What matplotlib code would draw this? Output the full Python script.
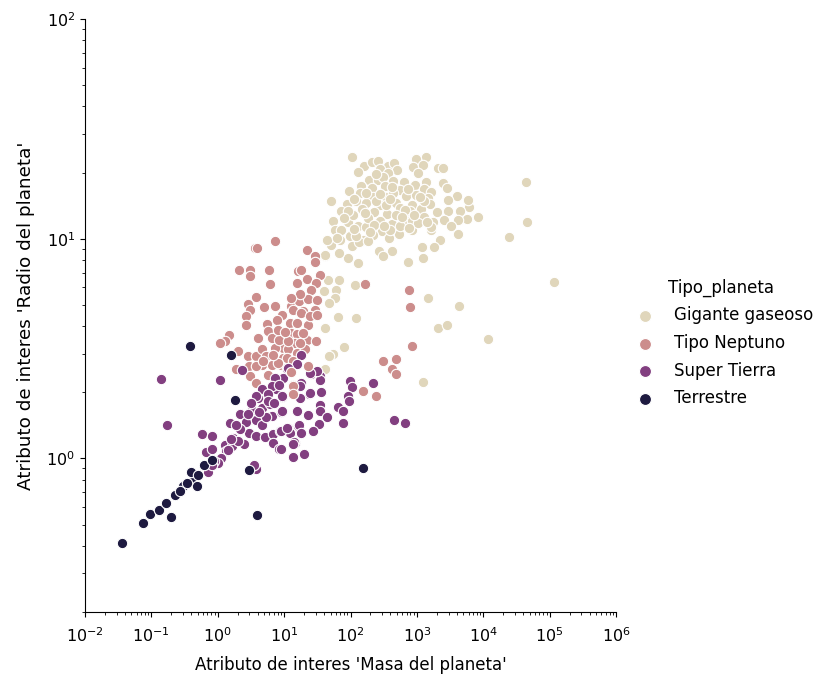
import matplotlib
matplotlib.use("Agg")
import matplotlib.pyplot as plt
import numpy as np

# log10(masa), log10(radio)
gigante = [
    [2.02, 1.373], [1.70, 1.173], [4.64, 1.259], [4.66, 1.077], [4.39, 1.009], [3.92, 1.100], [3.62, 1.023],
    [3.75, 1.091], [3.78, 1.145], [3.77, 1.177], [3.60, 1.195], [3.47, 1.177], [3.39, 1.255], [3.45, 1.232],
    [3.32, 1.323], [3.39, 1.323], [3.14, 1.373], [2.98, 1.364], [2.94, 1.327], [3.09, 1.336], [3.01, 1.300],
    [3.14, 1.259], [3.35, 0.995], [3.26, 0.964], [3.08, 0.964], [3.09, 0.914], [2.86, 0.895], [2.62, 0.945],
    [2.43, 0.945], [2.49, 0.923], [2.11, 0.891], [1.96, 0.914], [1.83, 0.936],
    [2.21, 1.332], [2.32, 1.347], [2.42, 1.352], [2.57, 1.329], [2.66, 1.344], [2.12, 1.302], [2.44, 1.317],
    [2.70, 1.311], [2.57, 1.298], [2.28, 1.268], [2.42, 1.268], [2.64, 1.261], [2.80, 1.258], [2.49, 1.280],
    [1.98, 1.218], [2.16, 1.242], [2.32, 1.230], [2.52, 1.238], [2.97, 1.245], [3.10, 1.226], [3.21, 1.212],
    [2.74, 1.223], [2.34, 1.192], [2.53, 1.189], [2.83, 1.195], [2.99, 1.200], [3.17, 1.185], [2.14, 1.208],
    [1.94, 1.159], [2.09, 1.170], [2.24, 1.162], [2.44, 1.155], [2.69, 1.162], [2.92, 1.155], [3.20, 1.159],
    [1.86, 1.124], [2.17, 1.135], [2.35, 1.120], [2.55, 1.114], [2.74, 1.139], [3.06, 1.135], [2.89, 1.124],
    [3.30, 1.120], [3.47, 1.124], [3.65, 1.124], [1.74, 1.079], [1.96, 1.074], [2.12, 1.059], [2.24, 1.053],
    [2.44, 1.079], [2.62, 1.068], [2.82, 1.086], [3.11, 1.098], [2.92, 1.079], [3.25, 1.074], [3.41, 1.083],
    [3.62, 1.086], [3.52, 1.056], [1.76, 1.041], [1.86, 1.038], [1.99, 1.011], [2.47, 1.033], [2.73, 1.023],
    [2.92, 1.038], [3.22, 1.038], [3.22, 1.053], [2.34, 1.018], [2.58, 1.003], [2.19, 0.995], [1.64, 0.995],
    [1.71, 0.973], [2.02, 0.968], [2.13, 0.983], [1.84, 0.995], [2.27, 0.988], [1.61, 0.923],
    [2.04, 1.109], [2.27, 1.094], [2.69, 1.109], [2.24, 1.208], [2.64, 1.208], [2.54, 1.155], [2.82, 1.132],
    [3.02, 1.071], [2.74, 1.056], [2.59, 1.041], [1.96, 1.124], [2.09, 1.011], [3.10, 1.170], [2.35, 1.064],
    [5.06, 0.805], [3.17, 0.732], [3.63, 0.695], [3.32, 0.595], [3.45, 0.609], [4.07, 0.545], [3.09, 0.350],
    [2.07, 0.791], [1.83, 0.814], [1.66, 0.814], [1.60, 0.764], [1.78, 0.768], [1.76, 0.732], [1.68, 0.709],
    [1.81, 0.645], [2.08, 0.641], [1.62, 0.595], [1.90, 0.509], [1.73, 0.477], [1.68, 0.464], [1.62, 0.409],
    [1.64, 0.995], [1.62, 0.927],
    [2.38, 1.295], [2.62, 1.235], [2.86, 1.225], [3.05, 1.190], [2.38, 1.170], [2.78, 1.100], [2.50, 1.060],
    [2.05, 1.045], [2.30, 1.030], [1.90, 1.095], [2.60, 1.180], [2.96, 1.110], [3.16, 1.075], [1.80, 1.005],
    [2.44, 1.205], [2.22, 1.115], [2.05, 1.180], [2.88, 1.050],
]

neptuno = [
    [0.87, 0.991], [0.56, 0.958], [0.59, 0.958], [1.35, 0.950], [1.46, 0.920], [1.46, 0.892], [0.32, 0.856],
    [0.49, 0.856], [0.49, 0.832], [0.77, 0.859], [0.79, 0.794], [1.21, 0.852], [1.26, 0.856], [1.34, 0.818],
    [1.19, 0.799], [1.54, 0.836], [1.48, 0.799], [1.41, 0.768], [0.58, 0.735], [0.46, 0.705], [0.70, 0.688],
    [0.86, 0.692], [0.49, 0.674], [0.42, 0.650], [0.42, 0.609], [0.97, 0.655], [0.89, 0.629], [0.74, 0.612],
    [0.76, 0.579], [0.81, 0.549], [0.60, 0.549], [0.17, 0.564], [0.11, 0.536], [0.03, 0.526], [0.31, 0.491],
    [0.46, 0.465], [0.58, 0.465], [0.67, 0.496], [0.73, 0.468], [0.47, 0.420], [0.28, 0.405], [0.66, 0.427],
    [0.82, 0.423], [0.96, 0.427], [0.48, 0.374], [0.58, 0.344], [0.76, 0.379], [1.14, 0.336], [0.99, 0.503],
    [0.87, 0.503], [0.98, 0.458], [1.09, 0.617], [1.19, 0.617], [1.11, 0.571], [1.19, 0.568], [1.16, 0.526],
    [1.34, 0.541], [1.48, 0.533], [1.36, 0.609], [1.11, 0.692], [1.23, 0.718], [1.36, 0.726], [1.50, 0.720],
    [1.28, 0.673], [1.46, 0.677], [1.14, 0.677], [1.24, 0.750], [1.11, 0.730], [1.06, 0.496], [1.19, 0.480],
    [1.31, 0.496], [0.93, 0.541], [1.06, 0.533], [0.91, 0.586], [1.29, 0.571], [1.04, 0.458], [1.14, 0.442],
    [1.26, 0.662], [1.01, 0.574], [1.24, 0.526], [1.39, 0.647], [1.49, 0.655], [0.58, 0.420], [0.68, 0.443],
    [0.91, 0.435], [0.83, 0.473],
    [2.22, 0.795], [2.88, 0.768], [2.90, 0.688], [2.92, 0.510], [2.49, 0.445], [2.69, 0.454], [2.63, 0.407],
    [2.69, 0.385], [2.19, 0.306], [2.39, 0.286], [1.36, 0.420],
]

super_tierra = [
    [-0.86, 0.362], [0.04, 0.356], [-0.76, 0.150], [-0.24, 0.109], [-0.09, 0.102], [-0.18, 0.029], [-0.08, 0.041],
    [0.11, 0.059], [0.19, 0.162], [0.33, 0.200], [0.42, 0.165], [0.52, 0.220], [0.60, 0.273], [0.67, 0.314],
    [0.97, 0.367], [0.36, 0.402], [0.67, 0.230], [0.81, 0.193], [0.96, 0.211], [0.97, 0.279], [0.78, 0.246],
    [0.58, 0.177], [0.66, 0.152], [0.47, 0.117], [0.58, 0.102], [0.71, 0.097], [0.83, 0.109], [0.83, 0.071],
    [0.92, 0.044], [0.94, 0.124], [1.06, 0.139], [1.09, 0.117], [1.19, 0.215], [1.14, 0.008], [1.16, 0.071],
    [1.21, 0.147], [0.39, 0.064], [0.23, 0.094], [0.33, 0.132], [0.21, 0.056], [0.13, 0.033], [0.57, -0.050],
    [0.55, -0.032], [0.88, 0.314], [1.09, 0.405],
    [1.26, 0.473], [1.19, 0.432], [1.05, 0.409], [1.40, 0.386], [1.54, 0.374], [0.98, 0.367], [1.54, 0.356],
    [1.49, 0.397], [1.26, 0.344], [1.38, 0.294], [1.56, 0.303], [1.24, 0.276], [0.97, 0.283], [1.99, 0.351],
    [2.03, 0.326], [2.34, 0.344], [1.96, 0.286], [1.97, 0.260], [1.81, 0.235], [1.89, 0.215], [1.54, 0.245],
    [1.54, 0.215], [1.64, 0.189], [1.36, 0.197], [1.20, 0.215], [0.97, 0.215], [1.88, 0.162], [1.53, 0.157],
    [1.43, 0.127], [1.23, 0.154], [1.26, 0.117], [1.09, 0.117], [0.96, 0.124], [1.04, 0.139], [1.15, 0.076],
    [1.14, 0.007], [1.30, 0.021], [0.95, 0.041], [2.65, 0.177], [2.82, 0.162], [1.13, 0.064],
    [1.06, 0.412], [1.39, 0.389], [0.86, 0.367], [0.81, 0.329], [0.93, 0.336], [1.24, 0.329], [1.39, 0.299],
    [1.14, 0.298], [0.58, 0.283], [0.76, 0.291],
    [0.45, 0.200], [0.72, 0.190], [0.50, 0.250], [0.62, 0.210], [0.75, 0.260], [0.85, 0.250], [0.28, 0.150],
    [0.30, 0.080], [0.20, 0.090], [0.05, 0.000], [0.00, -0.020], [0.15, 0.040], [-0.05, -0.010], [-0.15, -0.060],
    [-0.08, -0.030],
]

terrestre = [
    [-0.42, 0.511], [0.20, 0.470], [0.26, 0.264], [-1.44, -0.386], [-1.12, -0.295], [-1.02, -0.254],
    [-0.89, -0.236], [-0.78, -0.201], [-0.71, -0.267], [-0.65, -0.167], [-0.52, -0.126], [-0.39, -0.107],
    [-0.31, -0.126], [-0.41, -0.061], [-0.21, -0.030], [-0.08, -0.009], [0.47, -0.054], [0.59, -0.259],
    [2.19, -0.043], [-0.57, -0.148], [-0.46, -0.114], [-0.30, -0.077],
]

# planetas tipo Neptuno que quedan por encima de los Super Tierra
neptuno_encima = [[1.13, 0.329], [1.13, 0.295], [1.36, 0.420], [1.10, 0.395]]

tipos = ["Gigante gaseoso", "Tipo Neptuno", "Super Tierra", "Terrestre"]
series = [gigante, neptuno, super_tierra, terrestre]
colores = ["#E0D6BB", "#CC8D8C", "#823F80", "#1E1A40"]

fig = plt.figure(figsize=(8.17, 6.77), dpi=100)
ax = fig.add_axes([85 / 817, 1 - 612 / 677, (616 - 85) / 817, (612 - 19) / 677])

for tipo, datos, color in zip(tipos, series, colores):
    datos = np.array(datos)
    ax.scatter(10 ** datos[:, 0], 10 ** datos[:, 1], s=56, color=color, edgecolor="white",
               linewidth=0.8, label=tipo, clip_on=False)

encima = np.array(neptuno_encima)
ax.scatter(10 ** encima[:, 0], 10 ** encima[:, 1], s=56, color=colores[1], edgecolor="white", linewidth=0.8)

ax.set_xscale("log")
ax.set_yscale("log")
ax.set_xlim(1e-2, 1e6)
ax.set_ylim(0.2, 1e2)
ax.set_xticks([10.0 ** i for i in range(-2, 7)])
ax.xaxis.set_minor_locator(matplotlib.ticker.LogLocator(base=10, subs=np.arange(2, 10), numticks=12))
ax.xaxis.set_minor_formatter(matplotlib.ticker.NullFormatter())
ax.yaxis.set_minor_formatter(matplotlib.ticker.NullFormatter())
ax.tick_params(labelsize=11.5)
ax.tick_params(axis="x", which="major", pad=7)
ax.spines["top"].set_visible(False)
ax.spines["right"].set_visible(False)
ax.set_xlabel("Atributo de interes 'Masa del planeta'", fontsize=12, labelpad=8)
ax.set_ylabel("Atributo de interes 'Radio del planeta'", fontsize=13.2, labelpad=8)

leg = fig.legend(loc="upper left", bbox_to_anchor=(620 / 817, 1 - 270 / 677), frameon=False,
                 title="Tipo_planeta", fontsize=12, title_fontsize=12, labelspacing=0.58,
                 handletextpad=0.75, borderpad=0, markerscale=1.15)

fig.savefig("out.png", dpi=100)
